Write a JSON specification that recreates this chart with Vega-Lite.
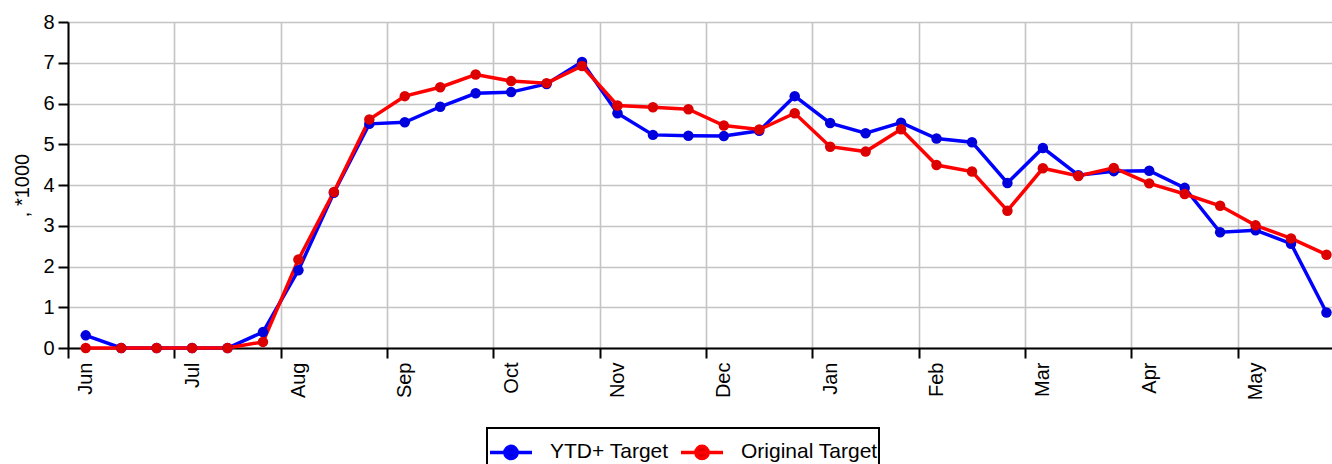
{
  "$schema": "https://vega.github.io/schema/vega-lite/v6.json",
  "width": 1264,
  "height": 326,
  "autosize": {"type": "none"},
  "padding": {"left": 68, "top": 22, "right": 0, "bottom": 116},
  "background": "white",
  "config": {"font": "Liberation Sans", "view": {"stroke": null}},
  "data": {"values": [
    {"week": 0, "series": "YTD+ Target", "value": 0.31},
    {"week": 1, "series": "YTD+ Target", "value": 0},
    {"week": 2, "series": "YTD+ Target", "value": 0},
    {"week": 3, "series": "YTD+ Target", "value": 0},
    {"week": 4, "series": "YTD+ Target", "value": 0},
    {"week": 5, "series": "YTD+ Target", "value": 0.39},
    {"week": 6, "series": "YTD+ Target", "value": 1.91},
    {"week": 7, "series": "YTD+ Target", "value": 3.81},
    {"week": 8, "series": "YTD+ Target", "value": 5.5},
    {"week": 9, "series": "YTD+ Target", "value": 5.54},
    {"week": 10, "series": "YTD+ Target", "value": 5.92},
    {"week": 11, "series": "YTD+ Target", "value": 6.25},
    {"week": 12, "series": "YTD+ Target", "value": 6.28},
    {"week": 13, "series": "YTD+ Target", "value": 6.48},
    {"week": 14, "series": "YTD+ Target", "value": 7.02},
    {"week": 15, "series": "YTD+ Target", "value": 5.76},
    {"week": 16, "series": "YTD+ Target", "value": 5.23},
    {"week": 17, "series": "YTD+ Target", "value": 5.21},
    {"week": 18, "series": "YTD+ Target", "value": 5.2},
    {"week": 19, "series": "YTD+ Target", "value": 5.33},
    {"week": 20, "series": "YTD+ Target", "value": 6.18},
    {"week": 21, "series": "YTD+ Target", "value": 5.52},
    {"week": 22, "series": "YTD+ Target", "value": 5.27},
    {"week": 23, "series": "YTD+ Target", "value": 5.53},
    {"week": 24, "series": "YTD+ Target", "value": 5.14},
    {"week": 25, "series": "YTD+ Target", "value": 5.05},
    {"week": 26, "series": "YTD+ Target", "value": 4.05},
    {"week": 27, "series": "YTD+ Target", "value": 4.91},
    {"week": 28, "series": "YTD+ Target", "value": 4.24},
    {"week": 29, "series": "YTD+ Target", "value": 4.34},
    {"week": 30, "series": "YTD+ Target", "value": 4.35},
    {"week": 31, "series": "YTD+ Target", "value": 3.93},
    {"week": 32, "series": "YTD+ Target", "value": 2.84},
    {"week": 33, "series": "YTD+ Target", "value": 2.89},
    {"week": 34, "series": "YTD+ Target", "value": 2.56},
    {"week": 35, "series": "YTD+ Target", "value": 0.87},
    {"week": 0, "series": "Original Target", "value": 0},
    {"week": 1, "series": "Original Target", "value": 0},
    {"week": 2, "series": "Original Target", "value": 0},
    {"week": 3, "series": "Original Target", "value": 0},
    {"week": 4, "series": "Original Target", "value": 0},
    {"week": 5, "series": "Original Target", "value": 0.15},
    {"week": 6, "series": "Original Target", "value": 2.17},
    {"week": 7, "series": "Original Target", "value": 3.83},
    {"week": 8, "series": "Original Target", "value": 5.61},
    {"week": 9, "series": "Original Target", "value": 6.18},
    {"week": 10, "series": "Original Target", "value": 6.4},
    {"week": 11, "series": "Original Target", "value": 6.71},
    {"week": 12, "series": "Original Target", "value": 6.55},
    {"week": 13, "series": "Original Target", "value": 6.5},
    {"week": 14, "series": "Original Target", "value": 6.92},
    {"week": 15, "series": "Original Target", "value": 5.95},
    {"week": 16, "series": "Original Target", "value": 5.91},
    {"week": 17, "series": "Original Target", "value": 5.86},
    {"week": 18, "series": "Original Target", "value": 5.46},
    {"week": 19, "series": "Original Target", "value": 5.36},
    {"week": 20, "series": "Original Target", "value": 5.76},
    {"week": 21, "series": "Original Target", "value": 4.94},
    {"week": 22, "series": "Original Target", "value": 4.82},
    {"week": 23, "series": "Original Target", "value": 5.37},
    {"week": 24, "series": "Original Target", "value": 4.49},
    {"week": 25, "series": "Original Target", "value": 4.33},
    {"week": 26, "series": "Original Target", "value": 3.37},
    {"week": 27, "series": "Original Target", "value": 4.41},
    {"week": 28, "series": "Original Target", "value": 4.22},
    {"week": 29, "series": "Original Target", "value": 4.42},
    {"week": 30, "series": "Original Target", "value": 4.04},
    {"week": 31, "series": "Original Target", "value": 3.78},
    {"week": 32, "series": "Original Target", "value": 3.49},
    {"week": 33, "series": "Original Target", "value": 3.01},
    {"week": 34, "series": "Original Target", "value": 2.69},
    {"week": 35, "series": "Original Target", "value": 2.29}
  ]},
  "encoding": {
    "x": {
      "field": "week", "type": "quantitative",
      "scale": {"domain": [-0.5, 35.156], "nice": false, "zero": false},
      "axis": {
        "title": null,
        "values": [-0.5, 2.5, 5.5, 8.5, 11.5, 14.5, 17.5, 20.5, 23.5, 26.5, 29.5, 32.5],
        "labelExpr": "['Jun','Jul','Aug','Sep','Oct','Nov','Dec','Jan','Feb','Mar','Apr','May'][round((datum.value+0.5)/3)]",
        "labelAngle": 270, "labelAlign": "right", "labelBaseline": "middle",
        "labelOffset": 17.72, "labelPadding": 4, "labelFontSize": 20, "labelColor": "black",
        "labelFlush": false, "labelOverlap": false, "labelBound": false,
        "tickSize": 10, "tickWidth": 2, "tickColor": "black",
        "domainColor": "black", "domainWidth": 2,
        "grid": true, "gridColor": "#c4c4c4", "gridWidth": 1.6
      }
    },
    "y": {
      "field": "value", "type": "quantitative",
      "scale": {"domain": [0, 8], "nice": false},
      "axis": {
        "title": ", *1000", "titleFontSize": 20, "titleFontWeight": "normal", "titleColor": "black", "titlePadding": 10,
        "values": [0, 1, 2, 3, 4, 5, 6, 7, 8],
        "labelFontSize": 20, "labelColor": "black", "labelPadding": 4, "labelFlush": false,
        "tickSize": 10, "tickWidth": 2, "tickColor": "black",
        "domainColor": "black", "domainWidth": 2,
        "grid": true, "gridColor": "#c4c4c4", "gridWidth": 1.6
      }
    }
  },
  "layer": [
    {
      "mark": {"type": "line", "strokeWidth": 3.5},
      "encoding": {
        "color": {
          "field": "series", "type": "nominal",
          "scale": {"domain": ["YTD+ Target", "Original Target"], "range": ["#0000ff", "#ff0000"]},
          "legend": {
            "title": null, "orient": "none", "legendX": 419, "legendY": 406, "direction": "horizontal",
            "strokeColor": "black", "padding": 1,
            "symbolType": "M-1,0L1,0M-0.29,0A0.29,0.29,0,1,1,0.29,0A0.29,0.29,0,1,1,-0.29,0Z",
            "symbolSize": 1764, "symbolStrokeWidth": 3.5,
            "labelFontSize": 21, "labelColor": "black", "labelOffset": 16, "columnPadding": 5,
            "encode": {
              "legend": {"update": {"strokeWidth": {"value": 2}, "width": {"value": 400}}},
              "symbols": {"update": {"fill": {"scale": "color", "field": "value"}, "stroke": {"scale": "color", "field": "value"}, "opacity": {"value": 1}}}
            }
          }
        }
      }
    },
    {
      "mark": {"type": "point", "filled": true, "size": 110, "opacity": 1},
      "encoding": {
        "fill": {
          "field": "series", "type": "nominal",
          "scale": {"domain": ["YTD+ Target", "Original Target"], "range": ["#0000dd", "#dd0000"]},
          "legend": null
        }
      }
    }
  ]
}
